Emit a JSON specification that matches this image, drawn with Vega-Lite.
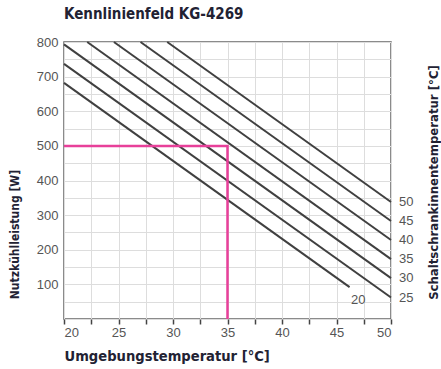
{
  "$schema": "https://vega.github.io/schema/vega-lite/v6.json",
  "width": 327,
  "height": 277,
  "autosize": {"type": "none"},
  "padding": {"left": 64, "top": 42, "right": 50, "bottom": 50},
  "title": {
    "text": "Kennlinienfeld KG-4269",
    "anchor": "start",
    "frame": "group",
    "offset": 14,
    "fontSize": 15,
    "fontWeight": "bold",
    "font": "Liberation Sans Narrow, DejaVu Sans Condensed, sans-serif",
    "color": "#222233"
  },
  "config": {
    "view": {"stroke": "#666666", "strokeWidth": 1.5},
    "font": "Liberation Sans, Arial, sans-serif"
  },
  "datasets": {
    "curves": [
      {"s": "20", "t": 20, "w": 682}, {"s": "20", "t": 46.2, "w": 92},
      {"s": "25", "t": 20, "w": 737}, {"s": "25", "t": 50, "w": 62},
      {"s": "30", "t": 20, "w": 793}, {"s": "30", "t": 50, "w": 118},
      {"s": "35", "t": 22.13, "w": 800}, {"s": "35", "t": 50, "w": 173},
      {"s": "40", "t": 24.58, "w": 800}, {"s": "40", "t": 50, "w": 228},
      {"s": "45", "t": 27.02, "w": 800}, {"s": "45", "t": 50, "w": 283},
      {"s": "50", "t": 29.47, "w": 800}, {"s": "50", "t": 50, "w": 338}
    ],
    "marker": [
      {"i": 1, "t": 20, "w": 500},
      {"i": 2, "t": 35, "w": 500},
      {"i": 3, "t": 35, "w": 0}
    ],
    "rightLabels": [
      {"label": "25", "t": 50, "w": 62},
      {"label": "30", "t": 50, "w": 118},
      {"label": "35", "t": 50, "w": 173},
      {"label": "40", "t": 50, "w": 228},
      {"label": "45", "t": 50, "w": 283},
      {"label": "50", "t": 50, "w": 338}
    ],
    "innerLabel": [
      {"label": "20", "t": 47.0, "w": 54}
    ]
  },
  "resolve": {"axis": {"y": "independent", "x": "independent"}},
  "layer": [
    {
      "data": {"name": "curves"},
      "mark": {"type": "line", "color": "#404040", "strokeWidth": 2},
      "encoding": {
        "x": {
          "field": "t", "type": "quantitative",
          "scale": {"domain": [20, 50], "nice": false, "zero": false},
          "axis": {
            "values": [20, 22.5, 25, 27.5, 30, 32.5, 35, 37.5, 40, 42.5, 45, 47.5, 50],
            "labelExpr": "datum.value % 5 == 0 ? datum.label : ''",
            "domain": false,
            "grid": true, "gridColor": "#dddddd", "gridWidth": 1,
            "ticks": true, "tickColor": "#444444", "tickSize": 5, "tickWidth": 1.5,
            "labelFontSize": 13, "labelColor": "#555555", "labelPadding": 2,
            "title": "Umgebungstemperatur [°C]",
            "titleFont": "Liberation Sans Narrow, DejaVu Sans Condensed, sans-serif",
            "titleFontSize": 14.6, "titleFontWeight": "bold", "titleColor": "#222233",
            "titleAnchor": "start", "titleAlign": "left", "titleBaseline": "middle",
            "titleX": 0, "titleY": 37
          }
        },
        "y": {
          "field": "w", "type": "quantitative",
          "scale": {"domain": [0, 800], "nice": false},
          "axis": {
            "values": [0, 50, 100, 150, 200, 250, 300, 350, 400, 450, 500, 550, 600, 650, 700, 750, 800],
            "labelExpr": "datum.value % 100 == 0 && datum.value > 0 ? datum.label : ''",
            "domain": false,
            "grid": true, "gridColor": "#dddddd", "gridWidth": 1,
            "ticks": false,
            "labelFontSize": 13, "labelColor": "#555555", "labelPadding": 6,
            "title": "Nutzkühlleistung [W]",
            "titleFont": "Liberation Sans Narrow, DejaVu Sans Condensed, sans-serif",
            "titleFontSize": 12, "titleFontWeight": "bold", "titleColor": "#222233",
            "titleBaseline": "middle", "titleAngle": 270,
            "titleX": -50, "titleY": 192
          }
        },
        "detail": {"field": "s", "type": "nominal"}
      }
    },
    {
      "data": {"name": "marker"},
      "mark": {"type": "line", "color": "#e8409a", "strokeWidth": 2.5},
      "encoding": {
        "x": {"field": "t", "type": "quantitative", "axis": null},
        "y": {
          "field": "w", "type": "quantitative",
          "axis": {
            "orient": "right",
            "labels": false, "ticks": false, "domain": false, "grid": false,
            "title": "Schaltschrankinnentemperatur [°C]",
            "titleFont": "Liberation Sans Narrow, DejaVu Sans Condensed, sans-serif",
            "titleFontSize": 13, "titleFontWeight": "bold", "titleColor": "#222233",
            "titleBaseline": "middle", "titleAngle": 270,
            "titleX": 42, "titleY": 140
          }
        },
        "order": {"field": "i", "type": "quantitative"}
      }
    },
    {
      "data": {"name": "rightLabels"},
      "mark": {"type": "text", "align": "left", "baseline": "middle", "dx": 8, "fontSize": 13, "color": "#555555"},
      "encoding": {
        "x": {"field": "t", "type": "quantitative", "axis": null},
        "y": {"field": "w", "type": "quantitative", "axis": null},
        "text": {"field": "label", "type": "nominal"}
      }
    },
    {
      "data": {"name": "innerLabel"},
      "mark": {"type": "text", "align": "center", "baseline": "middle", "fontSize": 13, "color": "#555555"},
      "encoding": {
        "x": {"field": "t", "type": "quantitative", "axis": null},
        "y": {"field": "w", "type": "quantitative", "axis": null},
        "text": {"field": "label", "type": "nominal"}
      }
    }
  ]
}
